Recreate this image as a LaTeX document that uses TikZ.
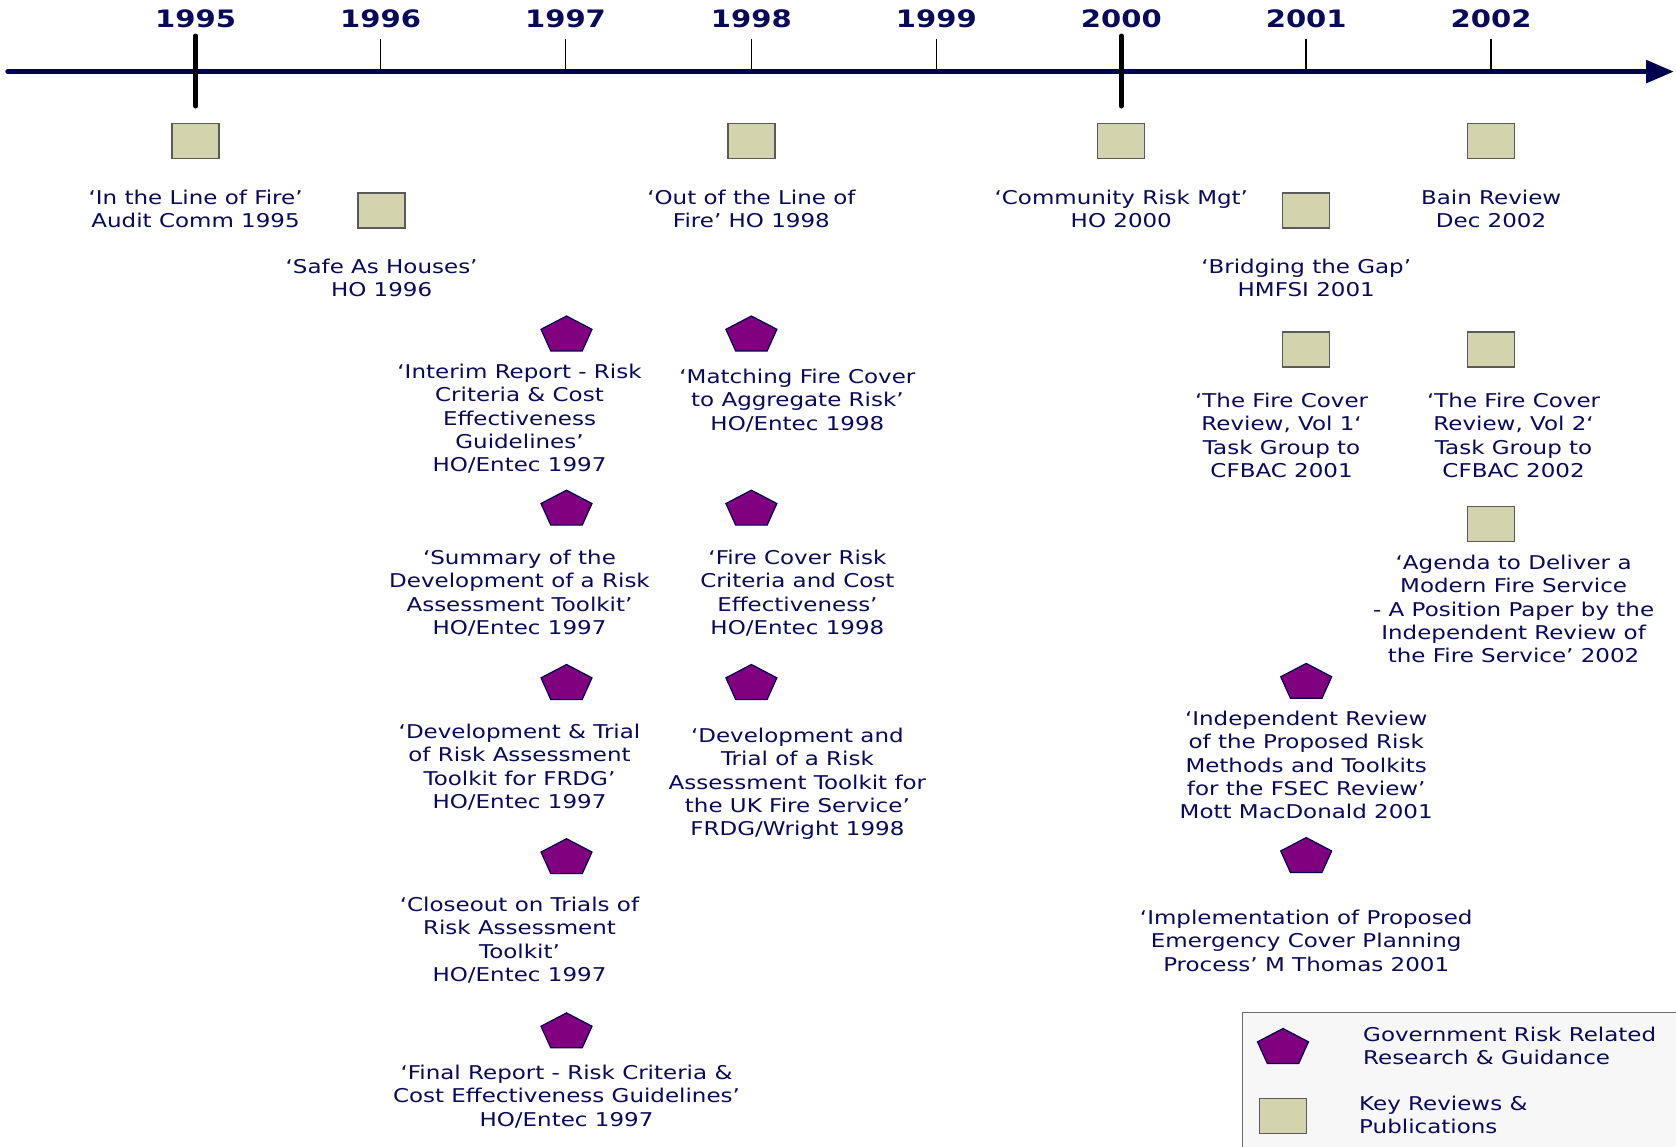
\documentclass[tikz,border=0pt]{standalone}
\usepackage{fontspec}
\setmainfont[FakeStretch=1.21]{DejaVu Sans}
\usetikzlibrary{shapes.geometric,arrows.meta}
\definecolor{navy}{RGB}{10,10,90}
\definecolor{axisnavy}{RGB}{0,0,80}
\definecolor{sqfill}{RGB}{211,211,173}
\definecolor{sqline}{RGB}{90,90,90}
\definecolor{pentfill}{RGB}{128,0,128}
\definecolor{legfill}{RGB}{247,247,247}
\definecolor{legline}{RGB}{110,110,110}
\begin{document}
\begin{tikzpicture}[x=1pt,y=-1pt,
  txt/.style={text=navy,align=center,inner sep=0pt,anchor=north,font=\fontsize{19}{23.25}\selectfont},
  legtxt/.style={text=navy,align=left,inner sep=0pt,anchor=north west,font=\fontsize{19}{23.25}\selectfont},
  yeartxt/.style={text=navy,inner sep=0pt,font=\fontsize{24}{28}\selectfont\bfseries},
  sqbox/.style={rectangle,minimum width=47pt,minimum height=35pt,inner sep=0pt,fill=sqfill,draw=sqline,line width=1.3pt},
  pentbox/.style={regular polygon,regular polygon sides=5,minimum size=53.6pt,inner sep=0pt,yscale=0.72,transform shape,fill=pentfill,draw=axisnavy,line width=1.2pt},
  thintick/.style={draw=black,line width=1.5pt},
  thicktick/.style={draw=black,line width=5pt,line cap=round}
]
\useasboundingbox (0,0) rectangle (1676,1146);
\clip (0,0) rectangle (1676,1146);
\fill[white] (0,0) rectangle (1676,1146);

% axis
\coordinate (axL) at (8,71.6);
\coordinate (axR) at (1674,71.6);
\draw[axisnavy,line width=5.5pt,line cap=round,-{Triangle[length=28pt,width=22pt]}] (axL) -- (axR);

% years and ticks
\foreach \yr/\xx in {1995/195.6,1996/380.6,1997/565.5,1998/751.4,1999/936.4,2000/1121.3,2001/1306.2,2002/1491.1}{
  \node[yeartxt] (y\yr) at (\xx,18.7) {\yr};
  \coordinate (t\yr a) at (\xx,38.5);
  \coordinate (t\yr b) at (\xx,71.6);
}
\foreach \yr in {1996,1997,1998,1999,2001,2002}{
  \draw[thintick] (t\yr a) -- (t\yr b);
}
\coordinate (k95a) at (195.6,36); \coordinate (k95b) at (195.6,106);
\coordinate (k00a) at (1121.3,36); \coordinate (k00b) at (1121.3,106);
\draw[thicktick] (k95a) -- (k95b);
\draw[thicktick] (k00a) -- (k00b);

% squares
\node[sqbox] (s1) at (195.6,141.1) {};
\node[sqbox] (s2) at (381.6,210.6) {};
\node[sqbox] (s3) at (751.4,141.1) {};
\node[sqbox] (s4) at (1121.3,141.1) {};
\node[sqbox] (s5) at (1491.1,141.1) {};
\node[sqbox] (s6) at (1306.2,210.6) {};
\node[sqbox] (s7) at (1306.2,349.5) {};
\node[sqbox] (s8) at (1491.1,349.5) {};
\node[sqbox] (s9) at (1491.1,523.8) {};

% pentagons
\node[pentbox] (p1) at (566.5,335.3) {};
\node[pentbox] (p2) at (566.5,509.5) {};
\node[pentbox] (p3) at (566.5,683.8) {};
\node[pentbox] (p4) at (566.5,858.0) {};
\node[pentbox] (p5) at (566.5,1032.2) {};
\node[pentbox] (p6) at (751.4,335.3) {};
\node[pentbox] (p7) at (751.4,509.5) {};
\node[pentbox] (p8) at (751.4,683.8) {};
\node[pentbox] (p9) at (1306.2,682.7) {};
\node[pentbox] (p10) at (1306.2,856.9) {};

% texts
\node[txt] (l1) at (195.6,189.7) {‘In the Line of Fire’\\Audit Comm 1995};
\node[txt] (l2) at (381.6,259) {‘Safe As Houses’\\HO 1996};
\node[txt] (l3) at (751.4,189.7) {‘Out of the Line of\\Fire’ HO 1998};
\node[txt] (l4) at (1121.3,189.7) {‘Community Risk Mgt’\\HO 2000};
\node[txt] (l5) at (1491.1,189.7) {Bain Review\\Dec 2002};
\node[txt] (l6) at (1306.2,259) {‘Bridging the Gap’\\HMFSI 2001};
\node[txt] (l7) at (519.5,364) {‘Interim Report - Risk\\Criteria \& Cost\\Effectiveness\\Guidelines’\\HO/Entec 1997};
\node[txt] (l8) at (519.5,550) {‘Summary of the\\Development of a Risk\\Assessment Toolkit’\\HO/Entec 1997};
\node[txt] (l9) at (519.5,724) {‘Development \& Trial\\of Risk Assessment\\Toolkit for FRDG’\\HO/Entec 1997};
\node[txt] (l10) at (519.5,897) {‘Closeout on Trials of\\Risk Assessment\\Toolkit’\\HO/Entec 1997};
\node[txt] (l11) at (566.5,1065) {‘Final Report - Risk Criteria \&\\Cost Effectiveness Guidelines’\\HO/Entec 1997};
\node[txt] (l12) at (797.4,369) {‘Matching Fire Cover\\to Aggregate Risk’\\HO/Entec 1998};
\node[txt] (l13) at (797.4,550) {‘Fire Cover Risk\\Criteria and Cost\\Effectiveness’\\HO/Entec 1998};
\node[txt] (l14) at (797.4,728) {‘Development and\\Trial of a Risk\\Assessment Toolkit for\\the UK Fire Service’\\FRDG/Wright 1998};
\node[txt] (l15) at (1281.6,393) {‘The Fire Cover\\Review, Vol 1‘\\Task Group to\\CFBAC 2001};
\node[txt] (l16) at (1513.6,393) {‘The Fire Cover\\Review, Vol 2‘\\Task Group to\\CFBAC 2002};
\node[txt] (l17) at (1513.6,555) {‘Agenda to Deliver a\\Modern Fire Service\\- A Position Paper by the\\Independent Review of\\the Fire Service’ 2002};
\node[txt] (l18) at (1306.2,711) {‘Independent Review\\of the Proposed Risk\\Methods and Toolkits\\for the FSEC Review’\\Mott MacDonald 2001};
\node[txt] (l19) at (1306.2,910) {‘Implementation of Proposed\\Emergency Cover Planning\\Process’ M Thomas 2001};

% legend
\node[rectangle,anchor=north west,minimum width=440pt,minimum height=150pt,fill=legfill,draw=legline,line width=1.3pt,inner sep=0pt] (leg) at (1241.5,1011.5) {};
\node[pentbox] (lp) at (1283,1047.8) {};
\node[sqbox] (ls) at (1283,1116) {};
\node[legtxt] (lt1) at (1363,1027) {Government Risk Related\\Research \& Guidance};
\node[legtxt] (lt2) at (1359,1096) {Key Reviews \&\\Publications};
\end{tikzpicture}
\end{document}
